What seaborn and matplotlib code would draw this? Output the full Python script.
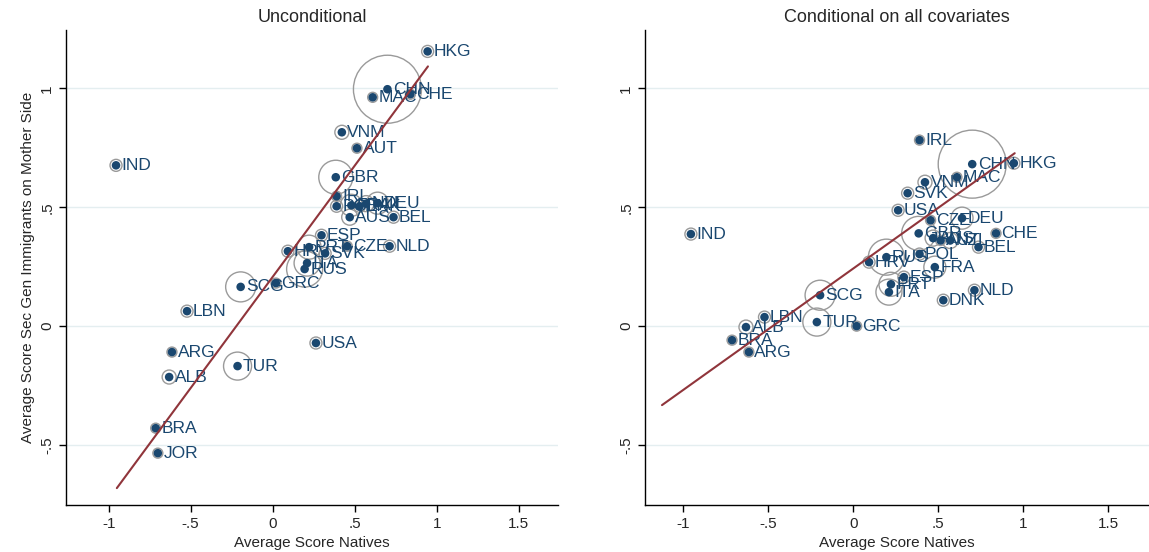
import numpy as np
import pandas as pd
import matplotlib
matplotlib.use('Agg')
import matplotlib.pyplot as plt
import seaborn as sns

# Country codes and native scores (shared x)
countries = ['IND', 'HKG', 'CHN', 'MAC', 'CHE', 'VNM', 'AUT', 'GBR', 'IRL', 'POL',
             'FRA', 'DNK', 'NZL', 'DEU', 'AUS', 'BEL', 'ESP', 'PRT', 'CZE', 'NLD',
             'HRV', 'SVK', 'ITA', 'RUS', 'SCG', 'GRC', 'LBN', 'ARG', 'ALB', 'TUR',
             'USA', 'BRA', 'JOR']
natives = [-0.955, 0.945, 0.70, 0.61, 0.84, 0.422, 0.514, 0.385, 0.39, 0.39,
           0.48, 0.53, 0.57, 0.64, 0.47, 0.737, 0.298, 0.222, 0.455, 0.713,
           0.093, 0.32, 0.21, 0.195, -0.195, 0.02, -0.522, -0.614, -0.631, -0.214,
           0.264, -0.713, -0.70]

# second generation scores, unconditional
uncond = [0.676, 1.155, 0.996, 0.962, 0.975, 0.815, 0.748, 0.626, 0.546, 0.504,
          0.508, 0.504, 0.515, 0.517, 0.458, 0.458, 0.382, 0.332, 0.336, 0.336,
          0.315, 0.306, 0.265, 0.24, 0.165, 0.181, 0.063, -0.109, -0.214, -0.168,
          -0.071, -0.429, -0.534]

# conditional on all covariates (JOR not shown)
cond = [0.387, 0.685, 0.681, 0.626, 0.39, 0.605, 0.36, 0.39, 0.782, 0.303,
        0.248, 0.109, 0.36, 0.454, 0.37, 0.332, 0.206, 0.176, 0.445, 0.151,
        0.269, 0.559, 0.143, 0.29, 0.13, 0.0, 0.038, -0.109, -0.004, 0.017,
        0.487, -0.059, np.nan]

# weight circle radius (pixels) per country
weight_r = [6, 6, 34, 5, 5, 7, 5, 17, 5, 6,
            11, 6, 8, 11, 8, 6, 6, 12, 5, 6,
            6, 6, 13, 18, 15, 5, 6, 5, 7, 14,
            6, 5, 5]

# fitted lines (endpoints)
fit_uncond_x = [-0.95, 0.947]
fit_uncond_y = [-0.681, 1.092]
fit_cond_x = [-1.125, 0.95]
fit_cond_y = [-0.332, 0.727]

df = pd.DataFrame({'country': countries, 'natives': natives,
                   'uncond': uncond, 'cond': cond, 'r': weight_r})
df['s'] = (1.44 * df['r']) ** 2

sns.set_style('white')
plt.rcParams['font.family'] = ['Liberation Sans', 'DejaVu Sans']

navy = '#1a476f'
maroon = '#90353b'

fig = plt.figure(figsize=(11.49, 5.52), dpi=100)
ax1 = fig.add_axes([66 / 1149, 1 - 505 / 552, 492 / 1149, 475 / 552])
ax2 = fig.add_axes([645 / 1149, 1 - 505 / 552, 504 / 1149, 475 / 552])

panels = [(ax1, 'uncond', 'Unconditional', fit_uncond_x, fit_uncond_y, (-1.26, 1.74)),
          (ax2, 'cond', 'Conditional on all covariates', fit_cond_x, fit_cond_y, (-1.225, 1.74))]

for ax, col, title, fx, fy, xlim in panels:
    d = df.dropna(subset=[col])
    for yv in [-0.5, 0, 0.5, 1]:
        ax.axhline(yv, color='#e4eef0', lw=1, zorder=0)
    sns.scatterplot(data=d, x='natives', y=col, size='s', sizes=(d['s'].min(), d['s'].max()),
                    facecolors='none', edgecolor='#9a9a9a', linewidth=1,
                    legend=False, ax=ax, zorder=2)
    sns.scatterplot(data=d, x='natives', y=col, color=navy, s=38, edgecolor='none',
                    legend=False, ax=ax, zorder=3)
    for _, row in d.iterrows():
        ax.annotate(row['country'], (row['natives'], row[col]), xytext=(4, 0),
                    textcoords='offset points', va='center', ha='left',
                    color=navy, fontsize=12.5, zorder=4)
    sns.lineplot(x=fx, y=fy, color=maroon, lw=1.5, ax=ax, zorder=5)
    ax.set_xlim(*xlim)
    ax.set_ylim(-0.752, 1.245)
    ax.set_xticks([-1, -0.5, 0, 0.5, 1, 1.5])
    ax.set_xticklabels(['-1', '-.5', '0', '.5', '1', '1.5'])
    ax.set_yticks([-0.5, 0, 0.5, 1])
    ax.set_yticklabels(['-.5', '0', '.5', '1'], rotation=90, va='center')
    ax.tick_params(axis='both', labelsize=11, length=5, width=1, color='black',
                   direction='out', bottom=True, left=True)
    ax.set_title(title, fontsize=13, pad=6)
    ax.set_xlabel('Average Score Natives', fontsize=11)
    ax.set_ylabel('')
    for sp in ['top', 'right']:
        ax.spines[sp].set_visible(False)
    for sp in ['left', 'bottom']:
        ax.spines[sp].set_color('black')
        ax.spines[sp].set_linewidth(1)

ax1.set_ylabel('Average Score Sec Gen Immigrants on Mother Side', fontsize=11)

fig.savefig('out.png', dpi=100)
